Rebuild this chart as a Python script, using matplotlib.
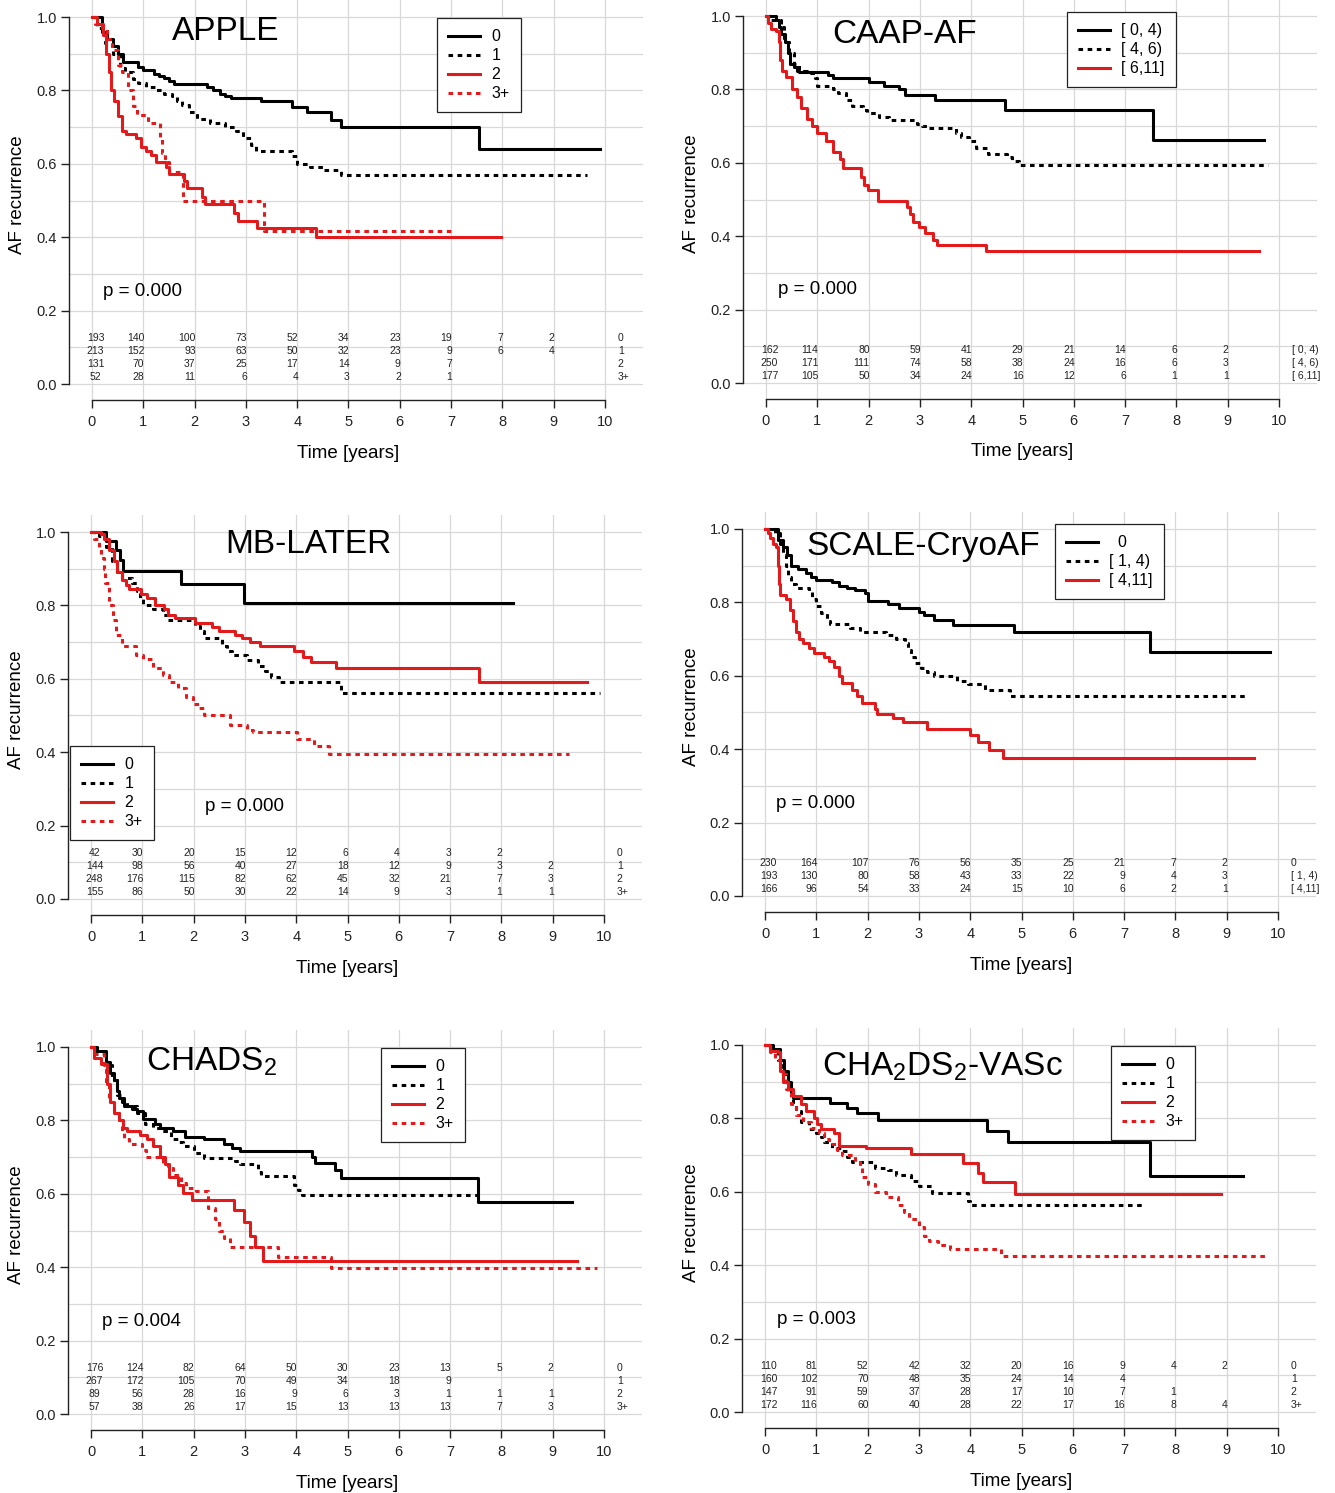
import matplotlib
matplotlib.use("Agg")
import matplotlib.pyplot as plt
from matplotlib.lines import Line2D

plt.rcParams["font.family"] = ["Liberation Sans", "DejaVu Sans"]
plt.rcParams["mathtext.fontset"] = "custom"
plt.rcParams["mathtext.rm"] = "Liberation Sans"

W, H = 1335, 1493
SX, SY = 51.3, 367.0          # pixels per year / per unit of survival
XMIN, XMAX = -0.44, 10.75
YMIN, YMAX = -0.044, 1.046
RED = "#e31a1c"
GRID = "#d8d8d8"
DOT = (0, (1.5, 1.5))
STYLES = [("black", "-"), ("black", DOT), (RED, "-"), (RED, DOT)]

YEARS = list(range(11))

# ---------------- APPLE ----------------
apple_labels = ["0", "1", "2", "3+"]
apple_0 = [(0, 1.0), (0.2, 0.96), (0.3, 0.94), (0.4, 0.92), (0.5, 0.90), (0.6, 0.878),
           (0.9, 0.865), (1.0, 0.855), (1.2, 0.845), (1.3, 0.84), (1.4, 0.833), (1.5, 0.825),
           (1.6, 0.818), (2.25, 0.81), (2.35, 0.80), (2.5, 0.79), (2.6, 0.785), (2.7, 0.78),
           (3.3, 0.77), (3.9, 0.755), (4.2, 0.74), (4.65, 0.72), (4.85, 0.70), (7.55, 0.64),
           (9.9, 0.64)]
apple_1 = [(0, 1.0), (0.1, 0.97), (0.25, 0.93), (0.4, 0.90), (0.55, 0.86), (0.65, 0.85),
           (0.8, 0.83), (0.9, 0.82), (1.05, 0.81), (1.25, 0.80), (1.4, 0.79), (1.55, 0.785),
           (1.65, 0.77), (1.75, 0.76), (1.9, 0.74), (2.05, 0.722), (2.3, 0.71), (2.6, 0.70),
           (2.8, 0.69), (2.95, 0.67), (3.1, 0.65), (3.2, 0.635), (3.9, 0.62), (4.0, 0.60),
           (4.25, 0.59), (4.5, 0.583), (4.85, 0.57), (9.65, 0.57)]
apple_2 = [(0, 1.0), (0.1, 0.98), (0.22, 0.95), (0.28, 0.90), (0.33, 0.85), (0.38, 0.80),
           (0.43, 0.77), (0.5, 0.73), (0.59, 0.69), (0.67, 0.68), (0.85, 0.67), (0.96, 0.646),
           (1.05, 0.635), (1.15, 0.625), (1.25, 0.605), (1.45, 0.59), (1.5, 0.572), (1.8, 0.553),
           (1.86, 0.533), (2.15, 0.51), (2.2, 0.49), (2.76, 0.465), (2.84, 0.445), (3.21, 0.425),
           (4.36, 0.40), (7.98, 0.40)]
apple_3 = [(0, 1.0), (0.06, 0.98), (0.2, 0.97), (0.3, 0.94), (0.39, 0.91), (0.5, 0.87),
           (0.59, 0.85), (0.7, 0.80), (0.8, 0.757), (0.88, 0.733), (1.1, 0.71), (1.33, 0.67),
           (1.37, 0.63), (1.42, 0.605), (1.5, 0.578), (1.78, 0.50), (3.35, 0.417), (7.0, 0.417)]
apple_risk = [[193, 140, 100, 73, 52, 34, 23, 19, 7, 2],
              [213, 152, 93, 63, 50, 32, 23, 9, 6, 4],
              [131, 70, 37, 25, 17, 14, 9, 7, None, None],
              [52, 28, 11, 6, 4, 3, 2, 1, None, None]]

# ---------------- CAAP-AF ----------------
caap_labels = ["[ 0, 4)", "[ 4, 6)", "[ 6,11]"]
caap_0 = [(0, 1.0), (0.2, 0.99), (0.25, 0.97), (0.3, 0.95), (0.38, 0.93), (0.42, 0.90),
          (0.47, 0.87), (0.55, 0.86), (0.6, 0.85), (0.65, 0.848), (1.2, 0.84), (1.3, 0.83),
          (2.0, 0.82), (2.3, 0.81), (2.6, 0.80), (2.7, 0.785), (3.3, 0.77), (4.65, 0.745),
          (7.55, 0.663), (9.7, 0.663)]
caap_1 = [(0, 1.0), (0.1, 0.99), (0.3, 0.97), (0.35, 0.93), (0.45, 0.90), (0.55, 0.87),
          (0.65, 0.85), (0.8, 0.845), (0.95, 0.83), (1.0, 0.81), (1.3, 0.80), (1.4, 0.79),
          (1.55, 0.77), (1.67, 0.755), (1.9, 0.745), (1.96, 0.737), (2.2, 0.725), (2.4, 0.716),
          (2.95, 0.705), (3.05, 0.70), (3.16, 0.695), (3.7, 0.68), (3.8, 0.67), (3.95, 0.66),
          (4.1, 0.64), (4.32, 0.625), (4.7, 0.615), (4.8, 0.605), (4.94, 0.595), (9.78, 0.595)]
caap_2 = [(0, 1.0), (0.03, 0.98), (0.1, 0.965), (0.2, 0.96), (0.25, 0.93), (0.28, 0.88),
          (0.32, 0.85), (0.39, 0.835), (0.5, 0.80), (0.6, 0.78), (0.69, 0.75), (0.8, 0.72),
          (0.9, 0.70), (1.0, 0.68), (1.16, 0.66), (1.3, 0.63), (1.45, 0.61), (1.5, 0.585),
          (1.85, 0.56), (1.92, 0.54), (1.99, 0.527), (2.19, 0.495), (2.75, 0.48), (2.8, 0.46),
          (2.87, 0.44), (2.99, 0.425), (3.1, 0.41), (3.25, 0.39), (3.34, 0.375), (4.28, 0.36),
          (9.61, 0.36)]
caap_risk = [[162, 114, 80, 59, 41, 29, 21, 14, 6, 2],
             [250, 171, 111, 74, 58, 38, 24, 16, 6, 3],
             [177, 105, 50, 34, 24, 16, 12, 6, 1, 1]]

# ---------------- MB-LATER ----------------
mb_labels = ["0", "1", "2", "3+"]
mb_0 = [(0, 1.0), (0.29, 0.975), (0.49, 0.95), (0.56, 0.925), (0.63, 0.895), (1.75, 0.858),
        (2.98, 0.806), (8.22, 0.806)]
mb_1 = [(0, 1.0), (0.15, 0.99), (0.3, 0.96), (0.4, 0.92), (0.5, 0.89), (0.6, 0.875),
        (0.8, 0.86), (0.9, 0.84), (0.95, 0.82), (1.02, 0.80), (1.2, 0.79), (1.4, 0.775),
        (1.5, 0.76), (2.02, 0.745), (2.12, 0.73), (2.2, 0.71), (2.55, 0.69), (2.65, 0.675),
        (2.75, 0.665), (3.05, 0.65), (3.25, 0.635), (3.4, 0.62), (3.5, 0.605), (3.66, 0.591),
        (4.88, 0.562), (9.92, 0.562)]
mb_2 = [(0, 1.0), (0.2, 0.995), (0.25, 0.98), (0.35, 0.95), (0.45, 0.92), (0.5, 0.89),
        (0.6, 0.87), (0.68, 0.855), (0.74, 0.845), (0.98, 0.83), (1.1, 0.82), (1.25, 0.80),
        (1.43, 0.79), (1.5, 0.775), (1.64, 0.765), (2.02, 0.752), (2.35, 0.74), (2.5, 0.73),
        (2.8, 0.72), (2.95, 0.71), (3.1, 0.70), (3.3, 0.69), (3.95, 0.675), (4.14, 0.66),
        (4.29, 0.646), (4.77, 0.63), (7.57, 0.591), (9.66, 0.591)]
mb_3 = [(0, 1.0), (0.05, 0.98), (0.15, 0.96), (0.2, 0.93), (0.25, 0.90), (0.28, 0.86),
        (0.35, 0.80), (0.42, 0.76), (0.49, 0.72), (0.61, 0.69), (0.88, 0.665), (1.02, 0.654),
        (1.2, 0.63), (1.4, 0.61), (1.52, 0.59), (1.7, 0.575), (1.85, 0.55), (1.99, 0.53),
        (2.1, 0.52), (2.21, 0.50), (2.7, 0.475), (3.05, 0.46), (3.16, 0.456), (4.02, 0.435),
        (4.34, 0.416), (4.63, 0.394), (9.32, 0.394)]
mb_risk = [[42, 30, 20, 15, 12, 6, 4, 3, 2, None],
           [144, 98, 56, 40, 27, 18, 12, 9, 3, 2],
           [248, 176, 115, 82, 62, 45, 32, 21, 7, 3],
           [155, 86, 50, 30, 22, 14, 9, 3, 1, 1]]

# ---------------- SCALE-CryoAF ----------------
scale_labels = ["0", "[ 1, 4)", "[ 4,11]"]
scale_0 = [(0, 1.0), (0.25, 0.97), (0.35, 0.95), (0.42, 0.93), (0.5, 0.90), (0.65, 0.89),
           (0.8, 0.88), (0.9, 0.87), (0.99, 0.861), (1.3, 0.855), (1.45, 0.845), (1.6, 0.84),
           (1.75, 0.835), (1.95, 0.825), (2.0, 0.803), (2.4, 0.795), (2.62, 0.785), (3.0, 0.775),
           (3.1, 0.765), (3.29, 0.752), (3.66, 0.738), (4.85, 0.72), (7.5, 0.665), (9.84, 0.665)]
scale_1 = [(0, 1.0), (0.2, 0.99), (0.3, 0.96), (0.35, 0.93), (0.4, 0.90), (0.45, 0.87),
           (0.5, 0.85), (0.6, 0.84), (0.85, 0.83), (0.92, 0.81), (0.99, 0.79), (1.1, 0.77),
           (1.2, 0.75), (1.27, 0.74), (1.65, 0.73), (1.85, 0.72), (2.35, 0.71), (2.55, 0.70),
           (2.72, 0.69), (2.78, 0.67), (2.85, 0.65), (2.92, 0.635), (3.05, 0.62), (3.15, 0.61),
           (3.29, 0.60), (3.75, 0.585), (3.95, 0.577), (4.28, 0.56), (4.78, 0.546), (9.38, 0.546)]
scale_2 = [(0, 1.0), (0.05, 0.99), (0.1, 0.975), (0.15, 0.96), (0.22, 0.95), (0.26, 0.90),
           (0.28, 0.85), (0.3, 0.82), (0.4, 0.81), (0.48, 0.78), (0.54, 0.75), (0.6, 0.72),
           (0.66, 0.70), (0.75, 0.69), (0.85, 0.675), (0.95, 0.662), (1.15, 0.65), (1.25, 0.64),
           (1.35, 0.624), (1.44, 0.60), (1.5, 0.58), (1.7, 0.56), (1.8, 0.545), (1.89, 0.526),
           (2.15, 0.51), (2.18, 0.495), (2.5, 0.485), (2.69, 0.473), (3.15, 0.456), (3.99, 0.44),
           (4.15, 0.42), (4.36, 0.399), (4.63, 0.377), (9.54, 0.377)]
scale_risk = [[230, 164, 107, 76, 56, 35, 25, 21, 7, 2],
              [193, 130, 80, 58, 43, 33, 22, 9, 4, 3],
              [166, 96, 54, 33, 24, 15, 10, 6, 2, 1]]

# ---------------- CHADS2 ----------------
chads_labels = ["0", "1", "2", "3+"]
chads_0 = [(0, 1.0), (0.12, 0.99), (0.3, 0.96), (0.38, 0.93), (0.45, 0.91), (0.5, 0.88),
           (0.55, 0.86), (0.65, 0.84), (0.8, 0.83), (0.9, 0.825), (1.02, 0.803), (1.25, 0.79),
           (1.35, 0.78), (1.6, 0.77), (1.83, 0.756), (2.21, 0.749), (2.6, 0.735), (2.75, 0.725),
           (2.91, 0.716), (4.3, 0.70), (4.37, 0.683), (4.75, 0.665), (4.88, 0.643), (7.54, 0.579),
           (9.37, 0.579)]
chads_1 = [(0, 1.0), (0.1, 0.98), (0.3, 0.95), (0.4, 0.91), (0.5, 0.87), (0.6, 0.85),
           (0.7, 0.84), (0.9, 0.82), (1.05, 0.79), (1.2, 0.78), (1.35, 0.77), (1.55, 0.75),
           (1.7, 0.74), (1.8, 0.73), (2.0, 0.71), (2.2, 0.697), (2.8, 0.69), (2.91, 0.68),
           (3.25, 0.66), (3.32, 0.648), (3.95, 0.625), (4.03, 0.61), (4.12, 0.597), (7.65, 0.597)]
chads_2 = [(0, 1.0), (0.05, 0.97), (0.2, 0.955), (0.32, 0.90), (0.38, 0.85), (0.45, 0.82),
           (0.55, 0.80), (0.62, 0.78), (0.7, 0.771), (0.95, 0.76), (1.1, 0.75), (1.2, 0.73),
           (1.35, 0.70), (1.45, 0.68), (1.52, 0.645), (1.7, 0.625), (1.79, 0.602), (1.97, 0.582),
           (2.79, 0.555), (2.98, 0.524), (3.09, 0.486), (3.2, 0.455), (3.36, 0.416), (9.47, 0.416)]
chads_3 = [(0, 1.0), (0.05, 0.98), (0.25, 0.95), (0.3, 0.90), (0.35, 0.85), (0.45, 0.82),
           (0.55, 0.80), (0.6, 0.77), (0.65, 0.75), (0.75, 0.736), (1.0, 0.72), (1.07, 0.70),
           (1.4, 0.68), (1.5, 0.67), (1.6, 0.65), (1.76, 0.63), (1.85, 0.615), (2.05, 0.608),
           (2.28, 0.56), (2.42, 0.53), (2.5, 0.50), (2.6, 0.48), (2.7, 0.455), (3.65, 0.428),
           (4.67, 0.399), (9.86, 0.399)]
chads_risk = [[176, 124, 82, 64, 50, 30, 23, 13, 5, 2],
              [267, 172, 105, 70, 49, 34, 18, 9, None, None],
              [89, 56, 28, 16, 9, 6, 3, 1, 1, 1],
              [57, 38, 26, 17, 15, 13, 13, 13, 7, 3]]

# ---------------- CHA2DS2-VASc ----------------
vasc_labels = ["0", "1", "2", "3+"]
vasc_0 = [(0, 1.0), (0.15, 0.99), (0.3, 0.96), (0.38, 0.93), (0.45, 0.90), (0.5, 0.87),
          (0.55, 0.855), (1.26, 0.843), (1.59, 0.828), (1.79, 0.814), (2.2, 0.796), (4.33, 0.766),
          (4.73, 0.735), (7.51, 0.644), (9.31, 0.644)]
vasc_1 = [(0, 1.0), (0.1, 0.99), (0.25, 0.96), (0.35, 0.92), (0.45, 0.87), (0.55, 0.84),
          (0.6, 0.82), (0.7, 0.79), (0.85, 0.77), (1.0, 0.76), (1.1, 0.75), (1.15, 0.735),
          (1.3, 0.72), (1.5, 0.71), (1.6, 0.695), (1.7, 0.68), (2.15, 0.665), (2.4, 0.66),
          (2.55, 0.645), (2.85, 0.63), (3.0, 0.615), (3.25, 0.597), (3.95, 0.575), (3.99, 0.565),
          (7.38, 0.565)]
vasc_2 = [(0, 1.0), (0.1, 0.985), (0.25, 0.98), (0.3, 0.93), (0.35, 0.90), (0.45, 0.88),
          (0.55, 0.86), (0.7, 0.84), (0.8, 0.82), (0.95, 0.80), (1.02, 0.785), (1.09, 0.772),
          (1.35, 0.76), (1.44, 0.726), (1.96, 0.72), (2.84, 0.703), (3.86, 0.678), (4.15, 0.65),
          (4.25, 0.628), (4.88, 0.593), (8.88, 0.593)]
vasc_3 = [(0, 1.0), (0.1, 0.98), (0.2, 0.96), (0.3, 0.92), (0.4, 0.88), (0.5, 0.84),
          (0.6, 0.81), (0.75, 0.79), (0.9, 0.775), (1.05, 0.76), (1.15, 0.745), (1.25, 0.73),
          (1.4, 0.715), (1.5, 0.70), (1.75, 0.68), (1.85, 0.665), (1.9, 0.64), (2.0, 0.62),
          (2.15, 0.60), (2.35, 0.585), (2.6, 0.565), (2.7, 0.545), (2.8, 0.525), (3.0, 0.505),
          (3.1, 0.48), (3.2, 0.465), (3.37, 0.455), (3.6, 0.444), (4.6, 0.426), (9.81, 0.426)]
vasc_risk = [[110, 81, 52, 42, 32, 20, 16, 9, 4, 2],
             [160, 102, 70, 48, 35, 24, 14, 4, None, None],
             [147, 91, 59, 37, 28, 17, 10, 7, 1, None],
             [172, 116, 60, 40, 28, 22, 17, 16, 8, 4]]

P_VALUES = ["p = 0.000", "p = 0.000", "p = 0.000", "p = 0.000", "p = 0.004", "p = 0.003"]


fig = plt.figure(figsize=(W / 100, H / 100), dpi=100)


def panel(x0, y0, title, title_xy, curves, labels, legend_labels, risk, pval, p_xy, leg_px):
    left = x0 + XMIN * SX
    top = y0 - YMAX * SY
    w = (XMAX - XMIN) * SX
    h = (YMAX - YMIN) * SY
    ax = fig.add_axes([left / W, 1 - (top + h) / H, w / W, h / H])
    ax.set_xlim(XMIN, XMAX)
    ax.set_ylim(YMIN, YMAX)
    for s in ["top", "right"]:
        ax.spines[s].set_visible(False)
    ax.spines["left"].set_bounds(0, 1)
    ax.spines["bottom"].set_bounds(0, 10)
    for s in ["left", "bottom"]:
        ax.spines[s].set_linewidth(1.0)
        ax.spines[s].set_color("#222222")
    ax.set_xticks(YEARS)
    ax.set_yticks([0, 0.2, 0.4, 0.6, 0.8, 1.0])
    ax.set_yticklabels(["0.0", "0.2", "0.4", "0.6", "0.8", "1.0"])
    ax.tick_params(direction="out", length=5.5, width=1.0, labelsize=10.5, pad=3.5,
                   colors="#222222")
    ax.tick_params(axis="x", pad=5.5)
    ax.patch.set_alpha(0)

    for k in range(11):
        ax.axhline(k / 10, color=GRID, lw=0.9, zorder=0)
        ax.axvline(k, color=GRID, lw=0.9, zorder=0)

    handles = []
    for pts, (col, ls) in zip(curves, STYLES):
        t = [p[0] for p in pts]
        s = [p[1] for p in pts]
        ax.step(t, s, where="post", color=col, ls=ls, lw=2.2, zorder=3)
        handles.append(Line2D([], [], color=col, ls=ls, lw=2.2))

    leg = ax.legend(handles, legend_labels, loc="upper left",
                    bbox_to_anchor=(leg_px[0] / W, 1 - leg_px[1] / H),
                    bbox_transform=fig.transFigure, fancybox=False, framealpha=1,
                    edgecolor="#222222", fontsize=11.5, handlelength=2.0,
                    handletextpad=0.7, borderpad=0.7, labelspacing=0.25, borderaxespad=0)
    leg.get_frame().set_linewidth(0.9)
    leg.set_zorder(5)

    ax.text(title_xy[0], title_xy[1], title, fontsize=24, ha="center", va="center")
    ax.text(p_xy[0], p_xy[1], pval, fontsize=13.5, ha="left", va="center")

    n = len(risk)
    for r, row in enumerate(risk):
        yy = 0.019 + 0.0355 * (n - 1 - r)
        for j, v in enumerate(row):
            if v is None:
                continue
            if j == 0:
                ax.text(0.07, yy, str(v), fontsize=7.5, ha="center", va="center",
                        color="#222222")
            else:
                ax.text(j + 0.02, yy, str(v), fontsize=7.5, ha="right", va="center",
                        color="#222222")
        ax.text(10.25, yy, labels[r], fontsize=7.5, ha="left", va="center", color="#222222")

    fig.text((x0 - 74) / W, 1 - (y0 - 0.515 * SY) / H, "AF recurrence", rotation=90,
             ha="center", va="center", fontsize=13.5)
    fig.text((x0 + 5 * SX) / W, 1 - (y0 + 69) / H, "Time [years]", ha="center",
             va="center", fontsize=13.5)
    return ax


panel(92, 384, "APPLE", (2.6, 0.96), [apple_0, apple_1, apple_2, apple_3],
      apple_labels, apple_labels, apple_risk, P_VALUES[0], (0.21, 0.253), (437, 18))
panel(766, 383, "CAAP-AF", (2.71, 0.95), [caap_0, caap_1, caap_2],
      caap_labels, caap_labels, caap_risk, P_VALUES[1], (0.23, 0.256), (1067, 12))
panel(91, 899, "MB-LATER", (4.23, 0.965), [mb_0, mb_1, mb_2, mb_3],
      mb_labels, mb_labels, mb_risk, P_VALUES[2], (2.22, 0.253), (70, 746))
panel(765, 896, "SCALE-CryoAF", (3.08, 0.951), [scale_0, scale_1, scale_2],
      scale_labels, ["  0", "[ 1, 4)", "[ 4,11]"], scale_risk, P_VALUES[3], (0.21, 0.253),
      (1055, 524))
panel(91, 1414, r"CHADS$\mathregular{_2}$", (2.34, 0.959), [chads_0, chads_1, chads_2, chads_3],
      chads_labels, chads_labels, chads_risk, P_VALUES[4], (0.21, 0.253), (381, 1048))
panel(765, 1412, r"CHA$\mathregular{_2}$DS$\mathregular{_2}$-VASc", (3.45, 0.94),
      [vasc_0, vasc_1, vasc_2, vasc_3], vasc_labels, vasc_labels, vasc_risk, P_VALUES[5],
      (0.23, 0.253), (1111, 1046))

fig.savefig("out.png", dpi=100, facecolor="white")
